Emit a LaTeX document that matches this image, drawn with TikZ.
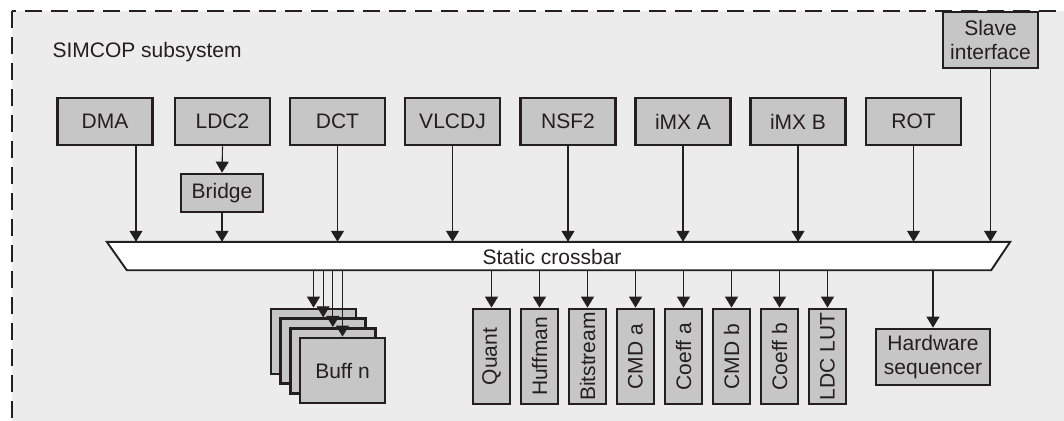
\documentclass[tikz,border=0pt]{standalone}
\usepackage{fontspec}
\setmainfont{Liberation Sans}
\usepackage{xcolor}
\usepackage{tikz}
\usetikzlibrary{positioning, arrows.meta, calc}
\definecolor{inkdark}{HTML}{231F20}
\definecolor{boxgray}{HTML}{C6C6C6}
\definecolor{panelgray}{HTML}{ECECEC}
\tikzset{
  unit/.style={draw=inkdark, line width=2.7pt, fill=boxgray, inner sep=0pt, align=center,
               text=inkdark, font=\fontsize{21}{24}\selectfont},
  topunit/.style={unit, minimum width=95pt, minimum height=47pt},
  memunit/.style={unit, minimum width=37pt, minimum height=95pt},
  buffunit/.style={unit, minimum width=85pt, minimum height=65pt},
  feed/.style={draw=inkdark, line width=1.1pt, -{Triangle[width=13pt, length=11pt]}},
}

\begin{document}
\begin{tikzpicture}[x=1pt, y=-1pt]
    \clip (0,0) rectangle (1064,420);
    \fill[white] (0,0) rectangle (1064,420);
    \draw[inkdark, line width=2.8pt, dash pattern=on 17pt off 9pt, fill=panelgray] (12,11) rectangle (1080,440);
    \node[anchor=west, text=inkdark, font=\fontsize{21}{24}\selectfont] (title) at (49,52) {SIMCOP subsystem};

    \node[topunit] (dma) at (105,121.5) {DMA};
    \node[topunit] (ldc) at (222.5,121.5) {LDC2};
    \node[topunit] (dct) at (337.5,121.5) {DCT};
    \node[topunit] (vlcdj) at (452.5,121.5) {VLCDJ};
    \node[topunit] (nsf) at (568,121.5) {NSF2};
    \node[topunit] (imxa) at (683,121.5) {iMX A};
    \node[topunit] (imxb) at (798,121.5) {iMX B};
    \node[topunit] (rot) at (913.5,121.5) {ROT};
    \node[unit, minimum width=82pt, minimum height=38pt] (bridge) at (222,193) {Bridge};
    \node[unit, minimum width=95pt, minimum height=56pt] (slave) at (990.5,40) {Slave\\interface};

    \node[minimum width=903pt, minimum height=28pt, inner sep=0pt] (xbar) at (558.5,256) {};
    \draw[inkdark, line width=1.9pt, fill=white] (xbar.north west) -- (xbar.north east)
      -- ([xshift=-19pt]xbar.south east) -- ([xshift=20pt]xbar.south west) -- cycle;
    \node[text=inkdark, font=\fontsize{21}{24}\selectfont] (xbarlabel) at (552,257) {Static crossbar};

    \draw[feed] (ldc.south) -- (bridge.north);
    \draw[feed] ([xshift=31pt]dma.south) -- ([xshift=31pt]dma.south |- xbar.north);
    \foreach \m in {bridge, dct, vlcdj, nsf, imxa, imxb, rot, slave}
      \draw[feed] (\m.south) -- (\m.south |- xbar.north);

    \foreach \k in {1,2,3}
      \node[buffunit] (buff\k) at (313.5+9.67*\k-9.67, 341.5+9.67*\k-9.67) {};
    \node[buffunit] (buff4) at (342.5,370.5) {Buff n};
    \foreach \k in {1,...,4}
      \draw[feed] (buff\k.north |- xbar.south) -- (buff\k.north);

    \foreach \name/\txt [count=\i from 0] in {quant/Quant, huff/Huffman, bits/Bitstream, cmda/CMD a,
                                              coefa/Coeff a, cmdb/CMD b, coefb/Coeff b, lut/LDC LUT} {
      \node[memunit] (\name) at (491.5+48*\i, 356.5) {\rotatebox{90}{\txt}};
      \draw[feed] (\name.north |- xbar.south) -- (\name.north);
    }

    \node[unit, minimum width=114pt, minimum height=56pt] (hwseq) at (933,357) {Hardware\\sequencer};
    \draw[feed] (hwseq.north |- xbar.south) -- (hwseq.north);
  \end{tikzpicture}
\end{document}
